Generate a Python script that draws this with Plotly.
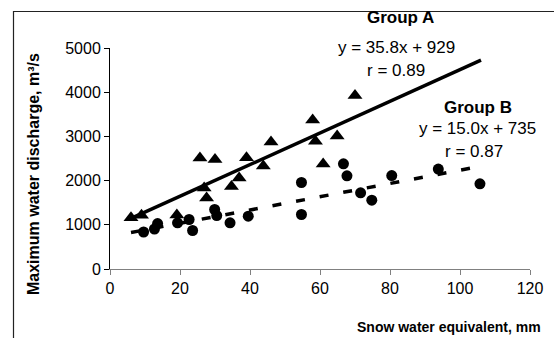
import numpy as np
import plotly.graph_objects as go

# Group A (triangles)
a_x = [6.0, 9.0, 19.1, 25.7, 30.0, 26.9, 27.6, 34.7, 36.9, 39.0, 43.8, 46.0, 57.9, 58.7, 60.9, 64.9, 70.0]
a_y = [1160, 1217, 1222, 2511, 2477, 1833, 1606, 1867, 2059, 2516, 2328, 2873, 3371, 2889, 2378, 3011, 3925]

# Group B (circles)
b_x = [9.6, 12.7, 13.6, 19.3, 22.6, 23.6, 29.9, 30.5, 34.3, 39.5, 54.7, 54.7, 66.7, 67.7, 71.6, 74.8, 80.5, 93.8, 105.7]
b_y = [837, 905, 1029, 1045, 1120, 871, 1346, 1210, 1045, 1195, 1957, 1233, 2380, 2109, 1724, 1557, 2115, 2262, 1928]

# Trend lines
trend_x = [6, 106]
slope_a, icpt_a, r_a = 35.8, 929, 0.89
slope_b, icpt_b, r_b = 15.0, 735, 0.87

x_ticks = [0, 20, 40, 60, 80, 100, 120]
y_ticks = [0, 1000, 2000, 3000, 4000, 5000]

FONT = "Liberation Sans, Arial, sans-serif"

tx = np.array(trend_x, dtype=float)

fig = go.Figure()
fig.add_trace(go.Scatter(x=tx, y=slope_a * tx + icpt_a, mode="lines",
                         line=dict(color="black", width=3.5), showlegend=False, hoverinfo="skip"))
fig.add_trace(go.Scatter(x=tx, y=slope_b * tx + icpt_b, mode="lines",
                         line=dict(color="black", width=3.5, dash="9px,15px"), showlegend=False, hoverinfo="skip"))
fig.add_trace(go.Scatter(x=a_x, y=a_y, mode="markers",
                         marker=dict(symbol="triangle-up", size=13, color="black"), showlegend=False))
fig.add_trace(go.Scatter(x=b_x, y=b_y, mode="markers",
                         marker=dict(symbol="circle", size=11, color="black"), showlegend=False))

# plot area: x 110..530 px, y 48..269 px
def px(xp):
    return (xp - 110) / 420.0

def py(yp):
    return (269.0 - yp) / 221.0

ann_font = dict(family=FONT, size=17, color="black")
bold_font = dict(family=FONT, size=17, color="black")
annotations = [
    dict(x=px(400), y=py(17), text="<b>Group A</b>", font=bold_font),
    dict(x=px(396), y=py(47), text=f"y = {slope_a:.1f}x + {icpt_a}", font=ann_font),
    dict(x=px(396), y=py(70), text=f"r = {r_a:.2f}", font=ann_font),
    dict(x=px(478), y=py(107), text="<b>Group B</b>", font=bold_font),
    dict(x=px(477), y=py(128), text=f"y = {slope_b:.1f}x + {icpt_b}", font=ann_font),
    dict(x=px(474), y=py(151), text=f"r = {r_b:.2f}", font=ann_font),
]
for a in annotations:
    a.update(xref="paper", yref="paper", showarrow=False, xanchor="center", yanchor="middle")

annotations.append(dict(xref="paper", yref="paper", x=px(543), y=py(327), xanchor="right", yanchor="middle",
                        text="<b>Snow water equivalent, mm</b>", showarrow=False,
                        font=dict(family=FONT, size=14, color="black")))
annotations.append(dict(xref="paper", yref="paper", x=px(33), y=py(174), xanchor="center", yanchor="middle",
                        textangle=-90, text="<b>Maximum water discharge, m³/s</b>", showarrow=False,
                        font=dict(family=FONT, size=16, color="black")))

frame = dict(color="#222222", width=1.2)
fig.update_layout(
    width=554, height=338,
    margin=dict(l=110, r=24, t=48, b=69),
    paper_bgcolor="white", plot_bgcolor="white",
    font=dict(family=FONT, size=16, color="black"),
    annotations=annotations,
    shapes=[
        dict(type="line", xref="paper", yref="paper", x0=px(13), x1=px(560), y0=py(11.5), y1=py(11.5), line=frame),
        dict(type="line", xref="paper", yref="paper", x0=px(13.5), x1=px(13.5), y0=py(11), y1=py(345), line=frame),
    ],
)
fig.update_xaxes(range=[0, 120], tickvals=x_ticks, ticks="outside", ticklen=5, tickcolor="#808080",
                 showline=True, linecolor="#808080", linewidth=1, showgrid=False, zeroline=False,
                 tickfont=dict(family=FONT, size=16))
fig.update_yaxes(range=[0, 5000], tickvals=y_ticks, ticks="outside", ticklen=5, tickcolor="black",
                 showline=True, linecolor="black", linewidth=1, showgrid=False, zeroline=False,
                 tickfont=dict(family=FONT, size=16))

fig.write_html("out.html", config={"displayModeBar": False},
               post_script="document.body.style.margin='0';document.body.style.overflow='hidden';")
